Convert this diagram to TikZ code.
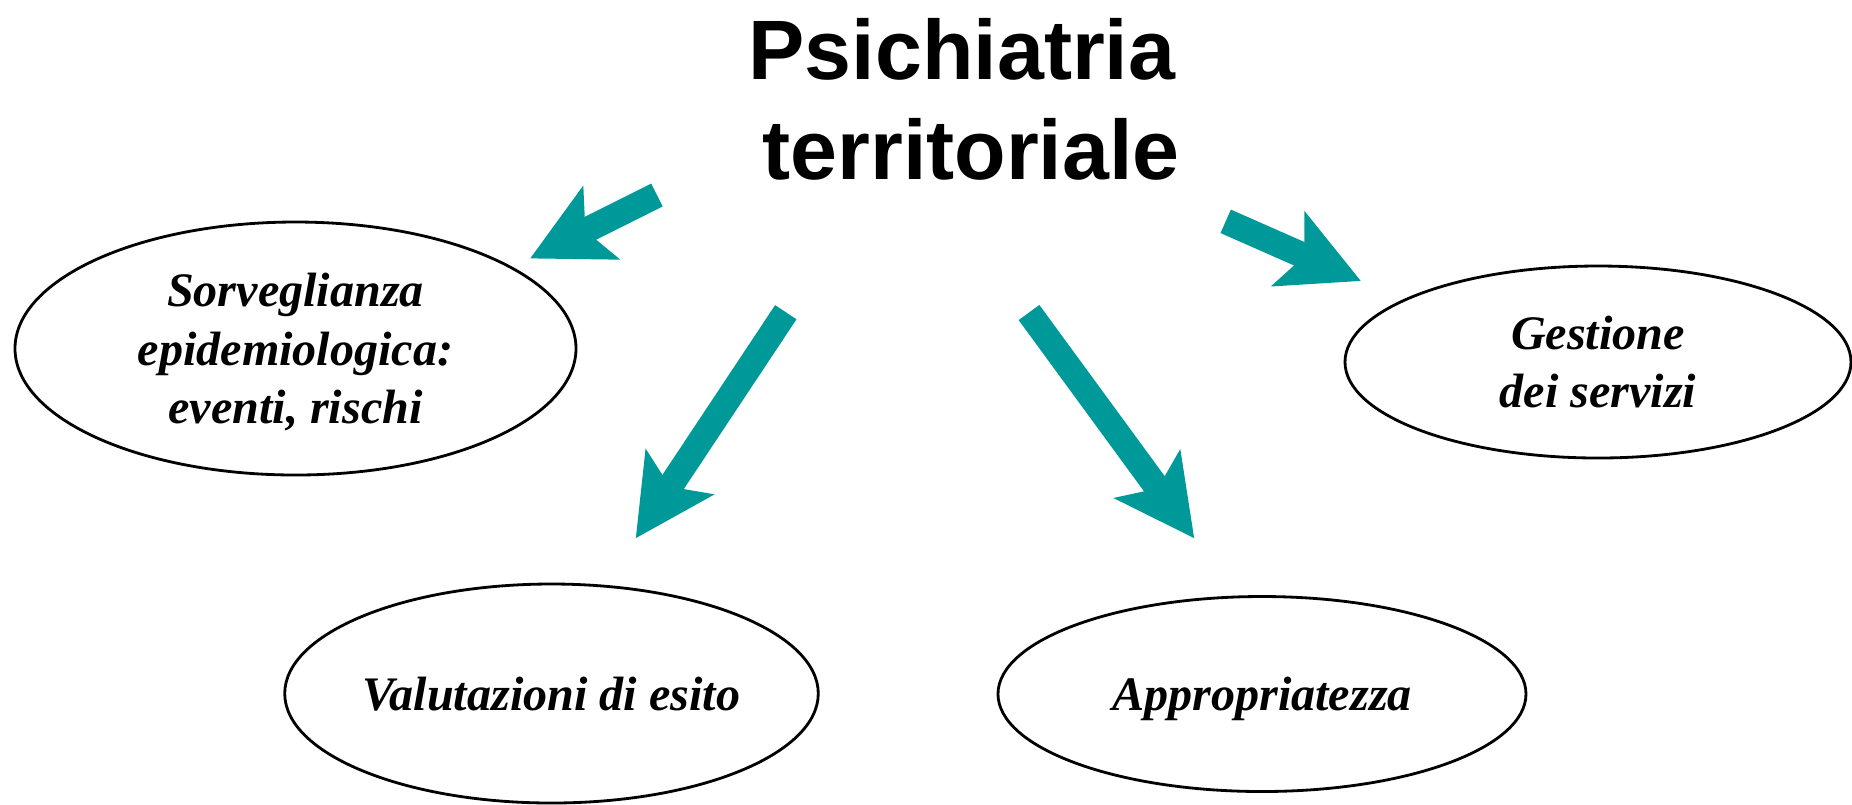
\documentclass[tikz,border=0pt]{standalone}
\usepackage{fontspec}
\setmainfont{Liberation Serif}
\newfontfamily\titlefont{Liberation Sans}
\usetikzlibrary{shapes.geometric,arrows.meta}
\definecolor{arrowteal}{RGB}{0,153,153}

\begin{document}
\begin{tikzpicture}
        \useasboundingbox (0,0) rectangle (18.52,-8.04);
        \node [anchor=base, inner sep=0pt, font=\titlefont\fontsize{24}{29}\selectfont\bfseries] (T1) at (9.62,-0.79) {Psichiatria};
        \node [anchor=base, inner sep=0pt, font=\titlefont\fontsize{24}{29}\selectfont\bfseries] (T2) at (9.71,-1.79) {territoriale};
        \begin{scope}[every node/.style={draw, ellipse, line width=0.8pt, inner sep=0pt, text depth=0pt, align=center, font=\fontsize{13.7}{16.6}\selectfont\bfseries\itshape}]
                \node [minimum width=5.61cm, minimum height=2.53cm] (Sv) at (2.955,-3.485) {Sorveglianza\\epidemiologica:\\eventi, rischi};
                \node [minimum width=5.06cm, minimum height=1.92cm] (Gs) at (15.98,-3.62) {Gestione\\dei servizi};
                \node [minimum width=5.29cm, minimum height=2.19cm] (Vl) at (5.515,-6.935) {Valutazioni di esito};
                \node [minimum width=5.28cm, minimum height=1.95cm] (Ap) at (12.62,-6.94) {Appropriatezza};
        \end{scope}
        % tails and tips of the arrows
        \coordinate (SvT) at (6.57,-1.95);
        \coordinate (SvH) at (5.30,-2.585);
        \coordinate (VlT) at (7.858,-3.122);
        \coordinate (VlH) at (6.357,-5.383);
        \coordinate (GsT) at (12.257,-2.213);
        \coordinate (GsH) at (13.61,-2.81);
        \coordinate (ApT) at (10.29,-3.125);
        \coordinate (ApH) at (11.943,-5.383);
        \begin{scope}[every path/.style={color=arrowteal, line width=7.3pt, -{Stealth[length=22.4pt, width=22.7pt, inset=4.8pt]}}]
                \path (SvT) edge (SvH);
                \path (VlT) edge (VlH);
                \path (GsT) edge (GsH);
                \path (ApT) edge (ApH);
        \end{scope}
\end{tikzpicture}
\end{document}
